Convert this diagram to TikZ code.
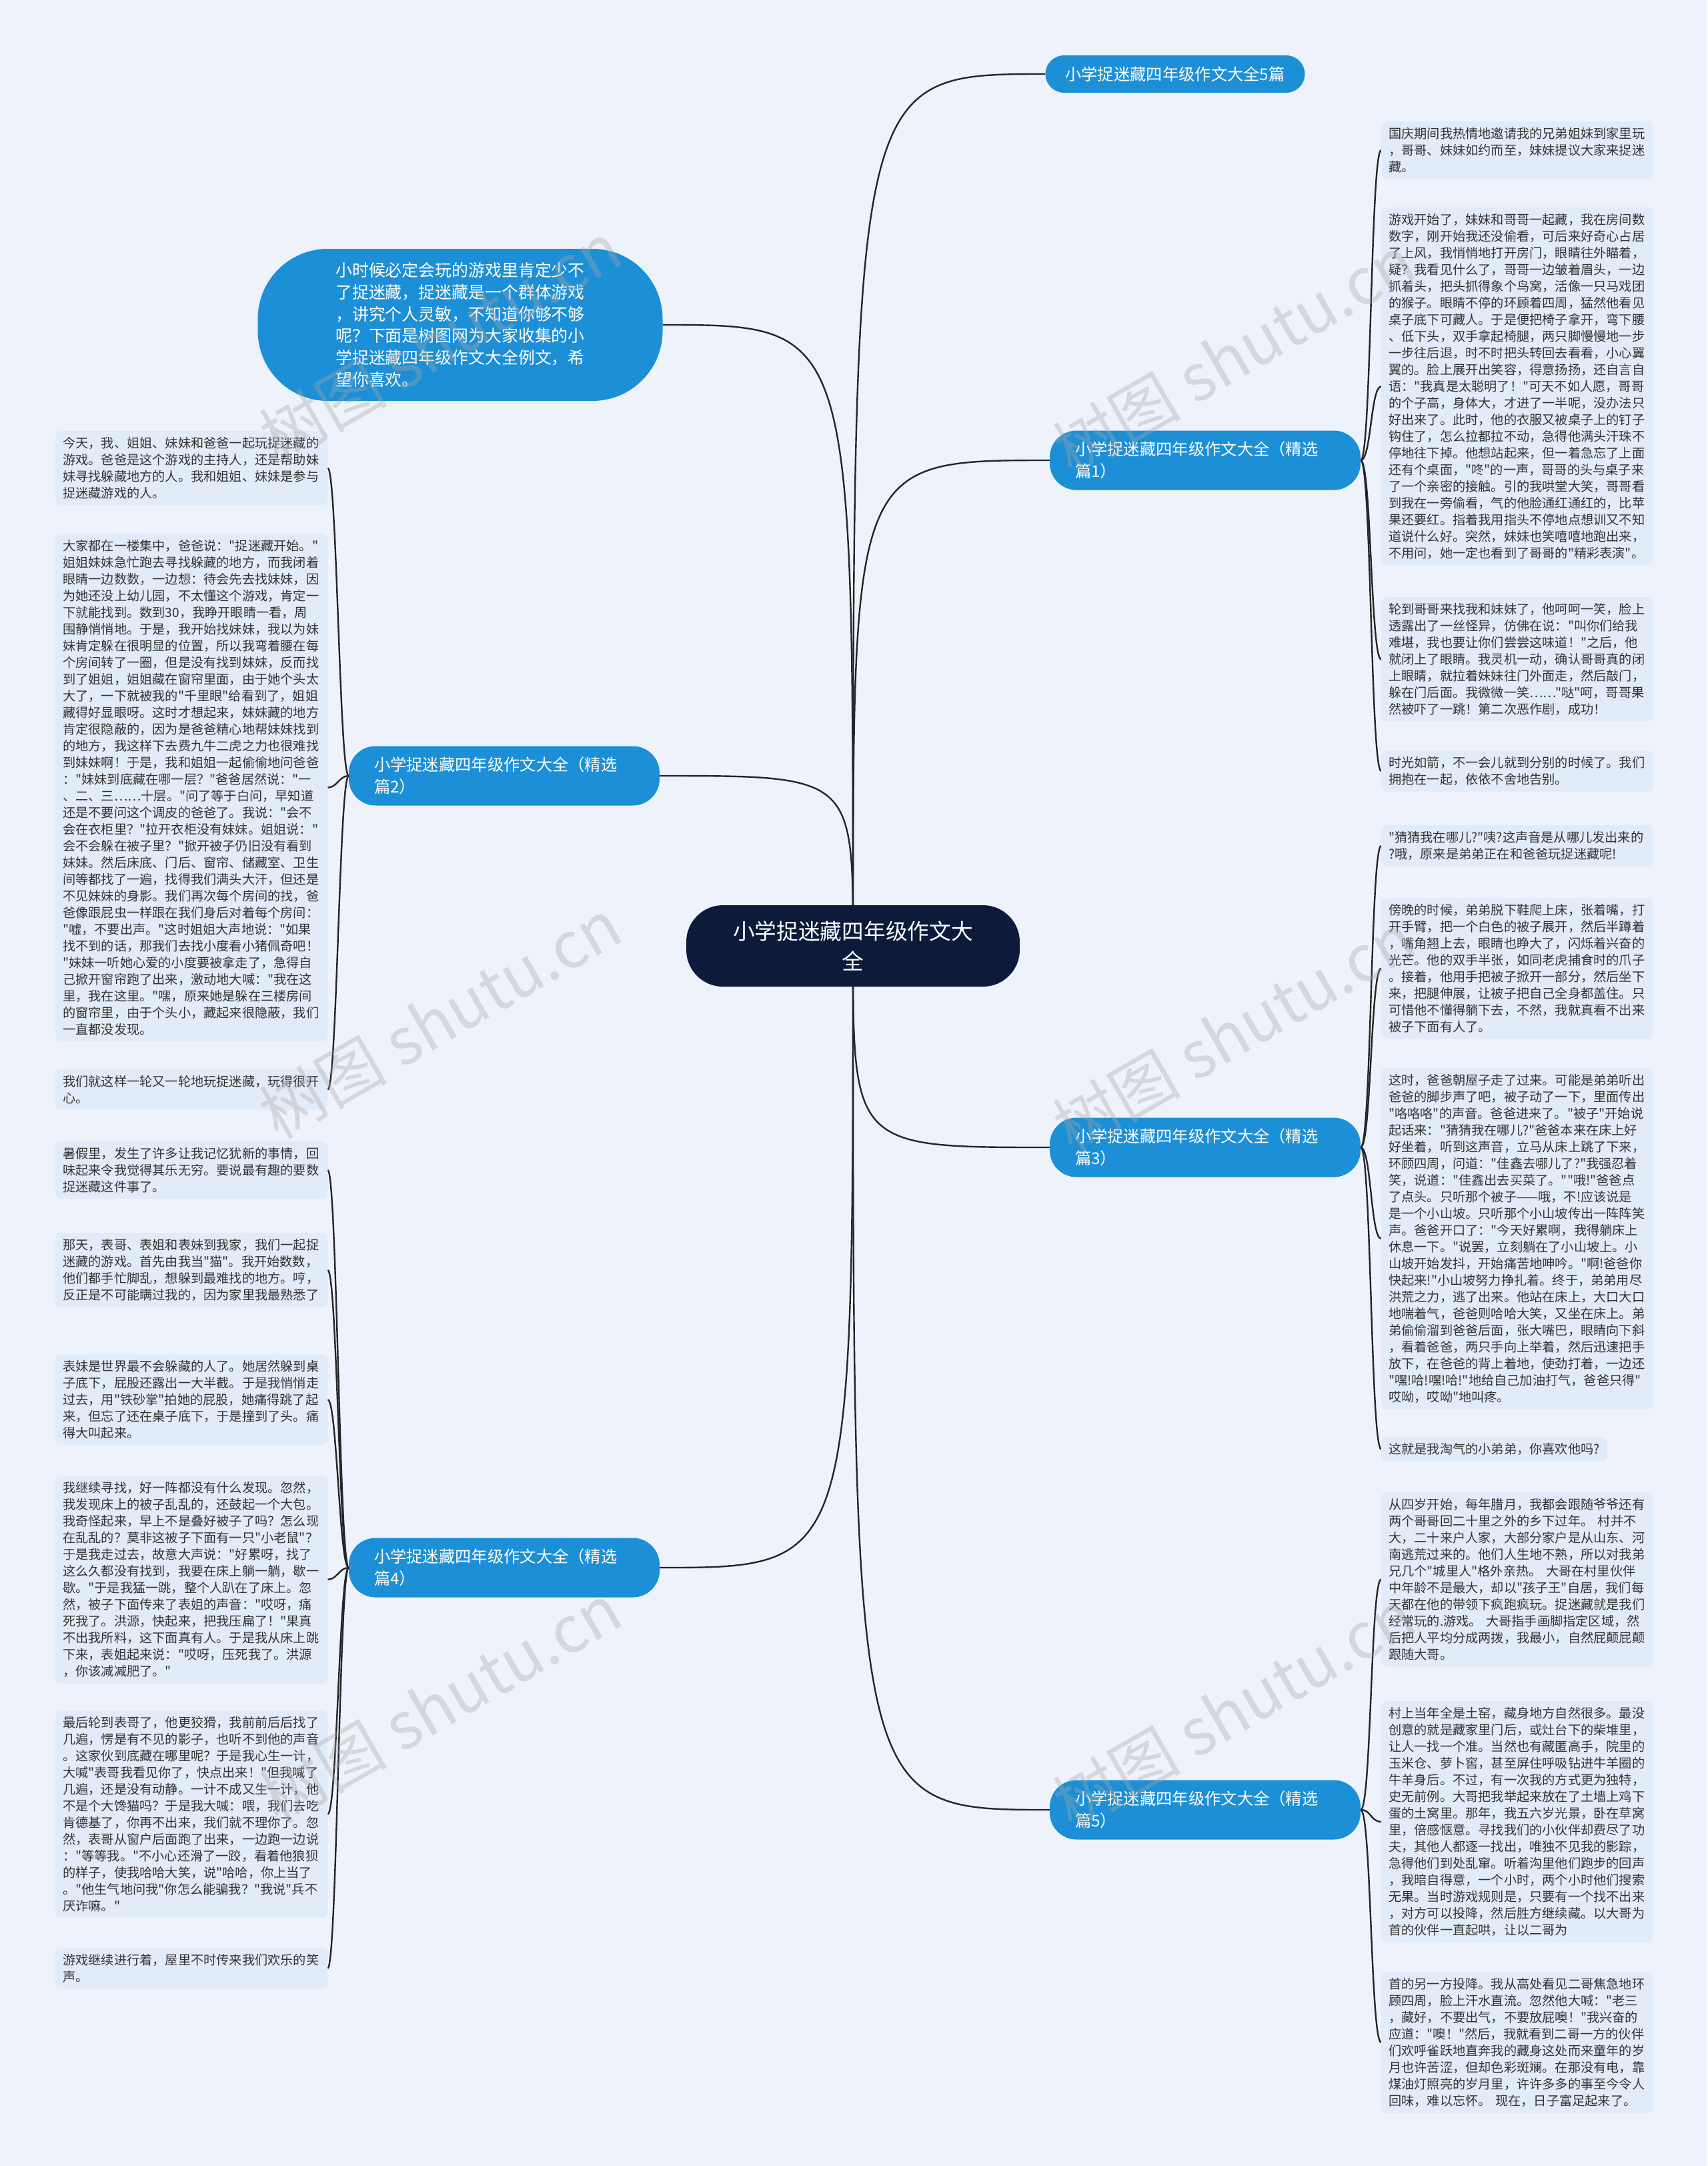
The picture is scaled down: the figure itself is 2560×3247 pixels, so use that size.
\documentclass[tikz,border=0pt]{standalone}
\usepackage{fontspec}
\newfontfamily\cjk{Noto Sans CJK SC}
\usepackage{tikz}
\usetikzlibrary{calc}
\definecolor{paper}{HTML}{EEF3FB}
\definecolor{leafbg}{HTML}{E2EBF8}
\definecolor{topic}{HTML}{1C8FD6}
\definecolor{core}{HTML}{0D1A3A}
\definecolor{ink}{HTML}{333333}
\definecolor{wireC}{HTML}{262626}
\pgfdeclarelayer{bg}
\pgfsetlayers{bg,main}

\begin{document}
\begin{tikzpicture}[x=1pt, y=-1pt,
  leaf/.style={fill=leafbg, rounded corners=8pt, text=ink, align=left, inner xsep=11pt, inner ysep=9pt, font=\cjk\fontsize{19.2}{25}\selectfont},
  leafw/.style={leaf, text width=386pt},
  branch/.style={fill=topic, rounded corners=40pt, text=white, align=left, text width=390pt, inner xsep=38pt, minimum height=89pt, font=\cjk\fontsize{24.3}{33}\selectfont},
  link/.style={draw=wireC, line width=2.4pt},
  wmark/.style={text=gray!70, opacity=0.35, rotate=30, font=\cjk\fontsize{96}{96}\selectfont}]
\useasboundingbox (0,0) rectangle (2560,3247);

\node[fill=core, rounded corners=55pt, text=white, align=center, minimum width=500pt, minimum height=122pt, font=\cjk\fontsize{32.7}{45}\selectfont] (root) at (1279,1418) {小学捉迷藏四年级作文大\\全};
\node[fill=topic, rounded corners=105pt, text=white, align=left, minimum width=607pt, minimum height=228pt, font=\cjk\fontsize{24.9}{32.7}\selectfont] (intro) at (690,487) {小时候必定会玩的游戏里肯定少不\\
了捉迷藏，捉迷藏是一个群体游戏\\
，讲究个人灵敏，不知道你够不够\\
呢？下面是树图网为大家收集的小\\
学捉迷藏四年级作文大全例文，希\\
望你喜欢。};
\node[fill=topic, rounded corners=28pt, text=white, minimum width=389pt, minimum height=56pt, font=\cjk\fontsize{24.3}{30}\selectfont] (top5) at (1762,111) {小学捉迷藏四年级作文大全5篇};

\node[branch] (p1) at (1807,690) {小学捉迷藏四年级作文大全（精选\\篇1）};
\node[branch] (p2) at (756,1163) {小学捉迷藏四年级作文大全（精选\\篇2）};
\node[branch] (p3) at (1807,1720) {小学捉迷藏四年级作文大全（精选\\篇3）};
\node[branch] (p4) at (756,2350) {小学捉迷藏四年级作文大全（精选\\篇4）};
\node[branch] (p5) at (1807,2713) {小学捉迷藏四年级作文大全（精选\\篇5）};

\node[leafw, anchor=north west] (p1a) at (2071,182) {国庆期间我热情地邀请我的兄弟姐妹到家里玩\\
，哥哥、妹妹如约而至，妹妹提议大家来捉迷\\
藏。};
\node[leafw, anchor=north west] (p1b) at (2071,311) {游戏开始了，妹妹和哥哥一起藏，我在房间数\\
数字，刚开始我还没偷看，可后来好奇心占居\\
了上风，我悄悄地打开房门，眼睛往外瞄着，\\
疑？我看见什么了，哥哥一边皱着眉头，一边\\
抓着头，把头抓得象个鸟窝，活像一只马戏团\\
的猴子。眼睛不停的环顾着四周，猛然他看见\\
桌子底下可藏人。于是便把椅子拿开，弯下腰\\
、低下头，双手拿起椅腿，两只脚慢慢地一步\\
一步往后退，时不时把头转回去看看，小心翼\\
翼的。脸上展开出笑容，得意扬扬，还自言自\\
语："我真是太聪明了！"可天不如人愿，哥哥\\
的个子高，身体大，才进了一半呢，没办法只\\
好出来了。此时，他的衣服又被桌子上的钉子\\
钩住了，怎么拉都拉不动，急得他满头汗珠不\\
停地往下掉。他想站起来，但一着急忘了上面\\
还有个桌面，"咚"的一声，哥哥的头与桌子来\\
了一个亲密的接触。引的我哄堂大笑，哥哥看\\
到我在一旁偷看，气的他脸通红通红的，比苹\\
果还要红。指着我用指头不停地点想训又不知\\
道说什么好。突然，妹妹也笑嘻嘻地跑出来，\\
不用问，她一定也看到了哥哥的"精彩表演"。};
\node[leafw, anchor=north west] (p1c) at (2071,895) {轮到哥哥来找我和妹妹了，他呵呵一笑，脸上\\
透露出了一丝怪异，仿佛在说："叫你们给我\\
难堪，我也要让你们尝尝这味道！"之后，他\\
就闭上了眼睛。我灵机一动，确认哥哥真的闭\\
上眼睛，就拉着妹妹往门外面走，然后敲门，\\
躲在门后面。我微微一笑……"哒"呵，哥哥果\\
然被吓了一跳！第二次恶作剧，成功！};
\node[leafw, anchor=north west] (p1d) at (2071,1125) {时光如箭，不一会儿就到分别的时候了。我们\\
拥抱在一起，依依不舍地告别。};

\node[leafw, anchor=north west] (p3a) at (2071,1237) {"猜猜我在哪儿?"咦?这声音是从哪儿发出来的\\
?哦，原来是弟弟正在和爸爸玩捉迷藏呢!};
\node[leafw, anchor=north west] (p3b) at (2071,1346) {傍晚的时候，弟弟脱下鞋爬上床，张着嘴，打\\
开手臂，把一个白色的被子展开，然后半蹲着\\
，嘴角翘上去，眼睛也睁大了，闪烁着兴奋的\\
光芒。他的双手半张，如同老虎捕食时的爪子\\
。接着，他用手把被子掀开一部分，然后坐下\\
来，把腿伸展，让被子把自己全身都盖住。只\\
可惜他不懂得躺下去，不然，我就真看不出来\\
被子下面有人了。};
\node[leafw, anchor=north west] (p3c) at (2071,1601) {这时，爸爸朝屋子走了过来。可能是弟弟听出\\
爸爸的脚步声了吧，被子动了一下，里面传出\\
"咯咯咯"的声音。爸爸进来了。"被子"开始说\\
起话来："猜猜我在哪儿?"爸爸本来在床上好\\
好坐着，听到这声音，立马从床上跳了下来，\\
环顾四周，问道："佳鑫去哪儿了?"我强忍着\\
笑，说道："佳鑫出去买菜了。""哦!"爸爸点\\
了点头。只听那个被子——哦，不!应该说是\\
是一个小山坡。只听那个小山坡传出一阵阵笑\\
声。爸爸开口了："今天好累啊，我得躺床上\\
休息一下。"说罢，立刻躺在了小山坡上。小\\
山坡开始发抖，开始痛苦地呻吟。"啊!爸爸你\\
快起来!"小山坡努力挣扎着。终于，弟弟用尽\\
洪荒之力，逃了出来。他站在床上，大口大口\\
地喘着气，爸爸则哈哈大笑，又坐在床上。弟\\
弟偷偷溜到爸爸后面，张大嘴巴，眼睛向下斜\\
，看着爸爸，两只手向上举着，然后迅速把手\\
放下，在爸爸的背上着地，使劲打着，一边还\\
"嘿!哈!嘿!哈!"地给自己加油打气，爸爸只得"\\
哎呦，哎呦"地叫疼。};
\node[leaf, anchor=north west] (p3d) at (2071,2154) {这就是我淘气的小弟弟，你喜欢他吗?};

\node[leafw, anchor=north west] (p5a) at (2071,2237) {从四岁开始，每年腊月，我都会跟随爷爷还有\\
两个哥哥回二十里之外的乡下过年。~村并不\\
大，二十来户人家，大部分家户是从山东、河\\
南逃荒过来的。他们人生地不熟，所以对我弟\\
兄几个"城里人"格外亲热。~大哥在村里伙伴\\
中年龄不是最大，却以"孩子王"自居，我们每\\
天都在他的带领下疯跑疯玩。捉迷藏就是我们\\
经常玩的.游戏。~大哥指手画脚指定区域，然\\
后把人平均分成两拨，我最小，自然屁颠屁颠\\
跟随大哥。};
\node[leafw, anchor=north west] (p5b) at (2071,2550) {村上当年全是土窑，藏身地方自然很多。最没\\
创意的就是藏家里门后，或灶台下的柴堆里，\\
让人一找一个准。当然也有藏匿高手，院里的\\
玉米仓、萝卜窖，甚至屏住呼吸钻进牛羊圈的\\
牛羊身后。不过，有一次我的方式更为独特，\\
史无前例。大哥把我举起来放在了土墙上鸡下\\
蛋的土窝里。那年，我五六岁光景，卧在草窝\\
里，倍感惬意。寻找我们的小伙伴却费尽了功\\
夫，其他人都逐一找出，唯独不见我的影踪，\\
急得他们到处乱窜。听着沟里他们跑步的回声\\
，我暗自得意，一个小时，两个小时他们搜索\\
无果。当时游戏规则是，只要有一个找不出来\\
，对方可以投降，然后胜方继续藏。以大哥为\\
首的伙伴一直起哄，让以二哥为};
\node[leafw, anchor=north west] (p5c) at (2071,2956) {首的另一方投降。我从高处看见二哥焦急地环\\
顾四周，脸上汗水直流。忽然他大喊："老三\\
，藏好，不要出气，不要放屁噢！"我兴奋的\\
应道："噢！"然后，我就看到二哥一方的伙伴\\
们欢呼雀跃地直奔我的藏身这处而来童年的岁\\
月也许苦涩，但却色彩斑斓。在那没有电，靠\\
煤油灯照亮的岁月里，许许多多的事至今令人\\
回味，难以忘怀。~现在，日子富足起来了。};

\node[leafw, anchor=north west] (p2a) at (83,646) {今天，我、姐姐、妹妹和爸爸一起玩捉迷藏的\\
游戏。爸爸是这个游戏的主持人，还是帮助妹\\
妹寻找躲藏地方的人。我和姐姐、妹妹是参与\\
捉迷藏游戏的人。};
\node[leafw, anchor=north west] (p2b) at (83,800) {大家都在一楼集中，爸爸说："捉迷藏开始。"\\
姐姐妹妹急忙跑去寻找躲藏的地方，而我闭着\\
眼睛一边数数，一边想：待会先去找妹妹，因\\
为她还没上幼儿园，不太懂这个游戏，肯定一\\
下就能找到。数到30，我睁开眼睛一看，周\\
围静悄悄地。于是，我开始找妹妹，我以为妹\\
妹肯定躲在很明显的位置，所以我弯着腰在每\\
个房间转了一圈，但是没有找到妹妹，反而找\\
到了姐姐，姐姐藏在窗帘里面，由于她个头太\\
大了，一下就被我的"千里眼"给看到了，姐姐\\
藏得好显眼呀。这时才想起来，妹妹藏的地方\\
肯定很隐蔽的，因为是爸爸精心地帮妹妹找到\\
的地方，我这样下去费九牛二虎之力也很难找\\
到妹妹啊！于是，我和姐姐一起偷偷地问爸爸\\
："妹妹到底藏在哪一层？"爸爸居然说："一\\
、二、三……十层。"问了等于白问，早知道\\
还是不要问这个调皮的爸爸了。我说："会不\\
会在衣柜里？"拉开衣柜没有妹妹。姐姐说："\\
会不会躲在被子里？"掀开被子仍旧没有看到\\
妹妹。然后床底、门后、窗帘、储藏室、卫生\\
间等都找了一遍，找得我们满头大汗，但还是\\
不见妹妹的身影。我们再次每个房间的找，爸\\
爸像跟屁虫一样跟在我们身后对着每个房间：\\
"嘘，不要出声。"这时姐姐大声地说："如果\\
找不到的话，那我们去找小度看小猪佩奇吧！\\
"妹妹一听她心爱的小度要被拿走了，急得自\\
己掀开窗帘跑了出来，激动地大喊："我在这\\
里，我在这里。"嘿，原来她是躲在三楼房间\\
的窗帘里，由于个头小，藏起来很隐蔽，我们\\
一直都没发现。};
\node[leafw, anchor=north west] (p2c) at (83,1603) {我们就这样一轮又一轮地玩捉迷藏，玩得很开\\
心。};

\node[leafw, anchor=north west] (p4a) at (83,1711) {暑假里，发生了许多让我记忆犹新的事情，回\\
味起来令我觉得其乐无穷。要说最有趣的要数\\
捉迷藏这件事了。};
\node[leafw, anchor=north west] (p4b) at (83,1848) {那天，表哥、表姐和表妹到我家，我们一起捉\\
迷藏的游戏。首先由我当"猫"。我开始数数，\\
他们都手忙脚乱，想躲到最难找的地方。哼，\\
反正是不可能瞒过我的，因为家里我最熟悉了};
\node[leafw, anchor=north west] (p4c) at (83,2030) {表妹是世界最不会躲藏的人了。她居然躲到桌\\
子底下，屁股还露出一大半截。于是我悄悄走\\
过去，用"铁砂掌"拍她的屁股，她痛得跳了起\\
来，但忘了还在桌子底下，于是撞到了头。痛\\
得大叫起来。};
\node[leafw, anchor=north west] (p4d) at (83,2212) {我继续寻找，好一阵都没有什么发现。忽然，\\
我发现床上的被子乱乱的，还鼓起一个大包。\\
我奇怪起来，早上不是叠好被子了吗？怎么现\\
在乱乱的？莫非这被子下面有一只"小老鼠"？\\
于是我走过去，故意大声说："好累呀，找了\\
这么久都没有找到，我要在床上躺一躺，歇一\\
歇。"于是我猛一跳，整个人趴在了床上。忽\\
然，被子下面传来了表姐的声音："哎呀，痛\\
死我了。洪源，快起来，把我压扁了！"果真\\
不出我所料，这下面真有人。于是我从床上跳\\
下来，表姐起来说："哎呀，压死我了。洪源\\
，你该减减肥了。"};
\node[leafw, anchor=north west] (p4e) at (83,2564) {最后轮到表哥了，他更狡猾，我前前后后找了\\
几遍，愣是有不见的影子，也听不到他的声音\\
。这家伙到底藏在哪里呢？于是我心生一计，\\
大喊"表哥我看见你了，快点出来！"但我喊了\\
几遍，还是没有动静。一计不成又生一计，他\\
不是个大馋猫吗？于是我大喊：喂，我们去吃\\
肯德基了，你再不出来，我们就不理你了。忽\\
然，表哥从窗户后面跑了出来，一边跑一边说\\
："等等我。"不小心还滑了一跤，看着他狼狈\\
的样子，使我哈哈大笑，说"哈哈，你上当了\\
。"他生气地问我"你怎么能骗我？"我说"兵不\\
厌诈嘛。"};
\node[leafw, anchor=north west] (p4f) at (83,2920) {游戏继续进行着，屋里不时传来我们欢乐的笑\\
声。};

\begin{pgfonlayer}{bg}
\fill[paper] (0,0) rectangle (2560,3247);
\foreach \n in {top5,p1,p3,p5} \draw[link] (root.center) .. controls (root.center |- \n.west) .. (\n.west);
\foreach \n in {intro,p2,p4} \draw[link] (root.center) .. controls (root.center |- \n.east) .. (\n.east);
\foreach \l in {p1a,p1b,p1c,p1d} \draw[link] (p1.east) .. controls ($(p1.east)+(16,0)$) and ($(\l.west)+(-16,0)$) .. (\l.west);
\foreach \l in {p3a,p3b,p3c,p3d} \draw[link] (p3.east) .. controls ($(p3.east)+(16,0)$) and ($(\l.west)+(-16,0)$) .. (\l.west);
\foreach \l in {p5a,p5b,p5c} \draw[link] (p5.east) .. controls ($(p5.east)+(16,0)$) and ($(\l.west)+(-16,0)$) .. (\l.west);
\foreach \l in {p2a,p2b,p2c} \draw[link] (p2.west) .. controls ($(p2.west)+(-14,0)$) and ($(\l.east)+(14,0)$) .. (\l.east);
\foreach \l in {p4a,p4b,p4c,p4d,p4e,p4f} \draw[link] (p4.west) .. controls ($(p4.west)+(-14,0)$) and ($(\l.east)+(14,0)$) .. (\l.east);
\end{pgfonlayer}

\node[wmark] (wm1) at (660,512) {树图 shutu.cn};
\node[wmark] (wm2) at (1850,532) {树图 shutu.cn};
\node[wmark] (wm3) at (660,1527) {树图 shutu.cn};
\node[wmark] (wm4) at (1850,1547) {树图 shutu.cn};
\node[wmark] (wm5) at (660,2553) {树图 shutu.cn};
\node[wmark] (wm6) at (1850,2562) {树图 shutu.cn};
\end{tikzpicture}
\end{document}
